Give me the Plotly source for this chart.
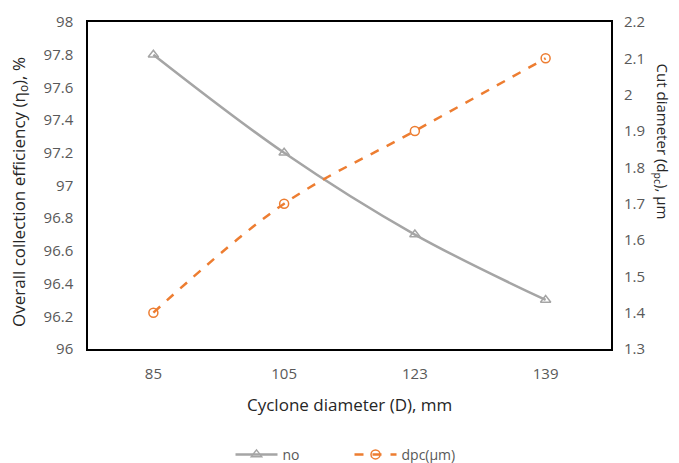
import plotly.graph_objects as go

categories = ["85", "105", "123", "139"]
eff_no = [97.8, 97.2, 96.7, 96.3]
dpc_um = [1.4, 1.7, 1.9, 2.1]
left_ticks = [96, 96.2, 96.4, 96.6, 96.8, 97, 97.2, 97.4, 97.6, 97.8, 98]
right_ticks = [1.3, 1.4, 1.5, 1.6, 1.7, 1.8, 1.9, 2.0, 2.1, 2.2]

FONT = "Open Sans"
TICK = "#595959"
TITLE = "#262626"

fig = go.Figure()
fig.add_trace(go.Scatter(
    x=categories, y=eff_no, name="no", mode="lines+markers",
    line=dict(color="#A5A5A5", width=2.5, shape="spline"),
    marker=dict(symbol="triangle-up-open", size=9, color="#A5A5A5", line=dict(width=1.5)),
    yaxis="y"))
fig.add_trace(go.Scatter(
    x=categories, y=dpc_um, name="dpc(μm)", mode="lines+markers",
    line=dict(color="#ED7D31", width=2.5, dash="dash", shape="spline"),
    marker=dict(symbol="circle-open", size=9, color="#ED7D31", line=dict(width=1.5)),
    yaxis="y2"))

fig.update_layout(
    width=679, height=463,
    margin=dict(l=80, r=76, t=14, b=122),
    paper_bgcolor="white", plot_bgcolor="white",
    font=dict(family=FONT, color=TICK, size=15),
    showlegend=True,
    legend=dict(orientation="h", x=0.5, xanchor="center", yref="container", y=0.035, yanchor="middle",
                font=dict(size=14, color=TICK), itemwidth=42, entrywidth=62),
    xaxis=dict(type="category", range=[-0.5, 3.5], showgrid=False, zeroline=False,
               showline=True, linecolor="black", linewidth=1.5, mirror=True,
               ticks="", tickfont=dict(size=15, color=TICK), automargin=False, ticklabelstandoff=10),
    yaxis=dict(range=[96, 98], tickvals=left_ticks, ticktext=[f"{v:g}" for v in left_ticks],
               showgrid=False, zeroline=False, automargin=False,
               showline=True, linecolor="black", linewidth=1.5, mirror=True,
               ticks="", tickfont=dict(size=15, color=TICK), ticklabelstandoff=10),
    yaxis2=dict(range=[1.3, 2.2], tickvals=right_ticks, ticktext=[f"{v:g}" for v in right_ticks],
                overlaying="y", side="right", showgrid=False, zeroline=False, automargin=False,
                ticks="", tickfont=dict(size=15, color=TICK), ticklabelstandoff=12),
    annotations=[
        dict(text="Cyclone diameter (D), mm", xref="paper", yref="paper", x=0.5, y=-0.17,
             xanchor="center", yanchor="middle", showarrow=False, font=dict(size=17, color=TITLE)),
        dict(text="Overall collection efficiency (η<sub>o</sub>), %", xref="paper", yref="paper",
             x=-0.132, y=0.48, xanchor="center", yanchor="middle", textangle=-90, showarrow=False,
             font=dict(size=17, color=TITLE)),
        dict(text="Cut diameter (d<sub>pc</sub>), μm", xref="paper", yref="paper",
             x=1.097, y=0.635, xanchor="center", yanchor="middle", textangle=90, showarrow=False,
             font=dict(size=15, color=TITLE)),
    ],
)

fig.write_html("out.html")
